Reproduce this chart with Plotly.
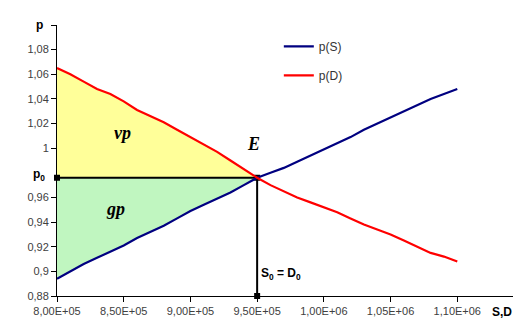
import plotly.graph_objects as go

# quantity (S, D) and prices
quantity = [800000, 810000, 820000, 830000, 840000, 850000, 860000, 870000,
            880000, 890000, 900000, 910000, 920000, 930000, 940000, 950000,
            960000, 970000, 980000, 990000, 1000000, 1010000, 1020000, 1030000,
            1040000, 1050000, 1060000, 1070000, 1080000, 1090000, 1100000]
price_supply = [0.894, 0.900, 0.906, 0.911, 0.916, 0.921, 0.927, 0.932,
                0.937, 0.943, 0.949, 0.954, 0.959, 0.964, 0.970, 0.976,
                0.980, 0.984, 0.989, 0.994, 0.999, 1.004, 1.009, 1.015,
                1.020, 1.025, 1.030, 1.035, 1.040, 1.044, 1.048]
price_demand = [1.065, 1.060, 1.054, 1.048, 1.044, 1.038, 1.031, 1.026,
                1.021, 1.015, 1.009, 1.003, 0.997, 0.990, 0.983, 0.976,
                0.970, 0.965, 0.960, 0.956, 0.952, 0.948, 0.943, 0.938,
                0.934, 0.930, 0.925, 0.920, 0.915, 0.912, 0.908]

q_equilibrium = 950000
p_equilibrium = 0.976

x_tickvals = [800000, 850000, 900000, 950000, 1000000, 1050000, 1100000, 1150000]
x_ticktext = ['8,00E+05', '8,50E+05', '9,00E+05', '9,50E+05',
              '1,00E+06', '1,05E+06', '1,10E+06', ' ']
y_tickvals = [0.88, 0.9, 0.92, 0.94, 0.96, 1.0, 1.02, 1.04, 1.06, 1.08, 1.1]
y_ticktext = ['0,88', '0,9', '0,92', '0,94', '0,96', '1', '1,02', '1,04',
              '1,06', '1,08', ' ']

n_left = quantity.index(q_equilibrium) + 1
q_left = quantity[:n_left]

fig = go.Figure()

# producer surplus (gp): between p0 and supply
fig.add_trace(go.Scatter(x=q_left, y=[p_equilibrium] * n_left, mode='lines',
                         line=dict(width=0), showlegend=False, hoverinfo='skip'))
fig.add_trace(go.Scatter(x=q_left, y=price_supply[:n_left], mode='lines',
                         line=dict(width=0), fill='tonexty', fillcolor='#c0f6c0',
                         showlegend=False, hoverinfo='skip'))
# consumer surplus (vp): between p0 and demand
fig.add_trace(go.Scatter(x=q_left, y=[p_equilibrium] * n_left, mode='lines',
                         line=dict(width=0), showlegend=False, hoverinfo='skip'))
fig.add_trace(go.Scatter(x=q_left, y=price_demand[:n_left], mode='lines',
                         line=dict(width=0), fill='tonexty', fillcolor='#ffff99',
                         showlegend=False, hoverinfo='skip'))

# equilibrium guide lines
fig.add_trace(go.Scatter(x=[quantity[0], q_equilibrium, q_equilibrium],
                         y=[p_equilibrium, p_equilibrium, 0.88],
                         mode='lines+markers', line=dict(color='black', width=2),
                         marker=dict(symbol='square', size=6, color='black'),
                         showlegend=False, hoverinfo='skip', cliponaxis=False))

fig.add_trace(go.Scatter(x=quantity, y=price_supply, mode='lines', name='p(S)',
                         legendgroup='s', line=dict(color='#000080', width=2.2)))
fig.add_trace(go.Scatter(x=quantity, y=price_demand, mode='lines', name='p(D)',
                         legendgroup='d', line=dict(color='#ff0000', width=2.2)))

label_font = dict(family='Liberation Sans, Arial', size=11, color='#404040')
fig.update_xaxes(range=[800000, 1150000], tickvals=x_tickvals, ticktext=x_ticktext,
                 showgrid=False, zeroline=False, showline=True, linecolor='black',
                 linewidth=1, ticks='outside', ticklen=5, tickcolor='black',
                 tickfont=label_font)
fig.update_yaxes(range=[0.88, 1.1], tickvals=y_tickvals, ticktext=y_ticktext,
                 showgrid=False, zeroline=False, showline=True, linecolor='black',
                 linewidth=1, ticks='outside', ticklen=5, tickcolor='black',
                 tickfont=label_font)

bold = dict(family='Liberation Sans, Arial', size=12, color='black')
serif = dict(family='Liberation Serif, Times New Roman', size=18, color='black')
annotations = [
    dict(x=0, xref='paper', y=1.1, yref='y', text='<b>p</b>', showarrow=False,
         xanchor='right', xshift=-12, font=bold),
    dict(x=0, xref='paper', y=p_equilibrium, yref='y', text='<b>p<sub>0</sub></b>',
         showarrow=False, xanchor='right', xshift=-10, yshift=3, font=bold),
    dict(x=1150000, y=0.88, text='<b>S,D</b>', showarrow=False, yanchor='top',
         xanchor='right', yshift=-7, xshift=-10, font=bold),
    dict(x=q_equilibrium, y=0.88, text='<b>S<sub>0</sub> = D<sub>0</sub></b>',
         showarrow=False, xanchor='left', yanchor='bottom', xshift=2, yshift=12,
         font=bold),
    dict(x=849000, y=1.012, text='<b><i>vp</i></b>', showarrow=False, font=serif),
    dict(x=844000, y=0.951, text='<b><i>gp</i></b>', showarrow=False, font=serif),
    dict(x=q_equilibrium, y=p_equilibrium, text='<b><i>E</i></b>', showarrow=False,
         yanchor='bottom', xshift=-4, yshift=22, font=serif),
]

fig.update_layout(
    width=521, height=329,
    margin=dict(l=49, r=3, t=17, b=41),
    plot_bgcolor='white', paper_bgcolor='white',
    annotations=annotations,
    legend=dict(x=0.475, y=0.975, xanchor='left', yanchor='top',
                font=dict(family='Liberation Sans, Arial', size=12, color='#333333'),
                tracegroupgap=10, bgcolor='rgba(0,0,0,0)'),
)

fig.write_html("out.html")
